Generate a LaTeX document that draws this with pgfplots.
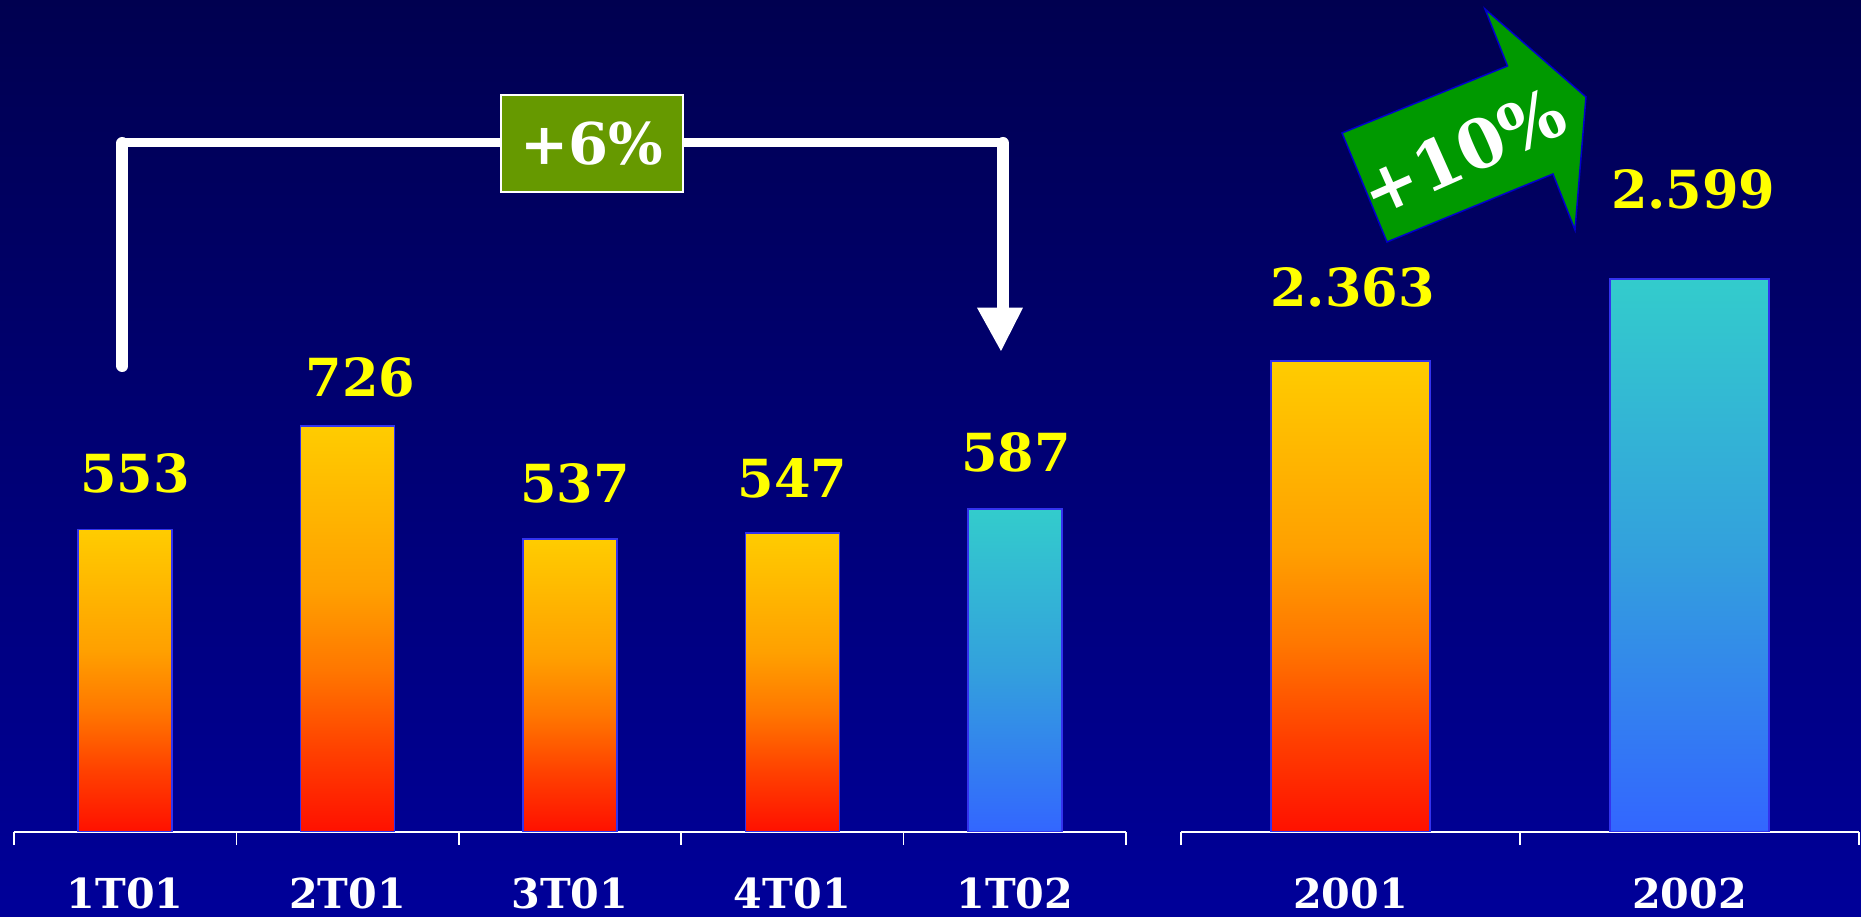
\documentclass[border=0pt]{standalone}
\usepackage{pgfplots}
\pgfplotsset{compat=1.18}
\usepackage{fontspec}
\setmainfont{DejaVu Serif}
\definecolor{bgtop}{HTML}{000050}
\definecolor{bgbot}{HTML}{000099}
\definecolor{oa}{HTML}{FF1000}
\definecolor{ob}{HTML}{FF4000}
\definecolor{oc}{HTML}{FF7700}
\definecolor{od}{HTML}{FFA000}
\definecolor{oe}{HTML}{FFCC00}
\definecolor{ba}{HTML}{3366FF}
\definecolor{bb}{HTML}{33A0DD}
\definecolor{bc}{HTML}{33CCCC}
\definecolor{valyellow}{HTML}{FFFF00}
\definecolor{boxgreen}{HTML}{669900}
\definecolor{arrowgreen}{HTML}{009900}
\definecolor{arrowedge}{HTML}{0000CC}
\definecolor{baredge}{HTML}{3333EE}

\pgfdeclareverticalshading{orangebar}{100bp}{color(0bp)=(oa); color(25bp)=(oa); color(35bp)=(ob); color(45bp)=(oc); color(55bp)=(od); color(75bp)=(oe); color(100bp)=(oe)}
\pgfdeclareverticalshading{bluebar}{100bp}{color(0bp)=(ba); color(25bp)=(ba); color(50bp)=(bb); color(75bp)=(bc); color(100bp)=(bc)}

\newcommand\valfont{\fontsize{21pt}{21pt}\selectfont\bfseries}
\newcommand\tickfont{\fontsize{16.5pt}{16.5pt}\selectfont\bfseries}

\pgfplotsset{
  chartbase/.style={
    scale only axis, anchor=south west,
    height=332.8pt,
    axis x line*=bottom, axis y line=none,
    x axis line style={white, line width=0.9pt, -},
    ytick=\empty,
    tick align=outside,
    major tick length=5.2pt,
    xtick style={white, line width=0.6pt},
    x tick label as interval,
    xticklabel style={font=\tickfont, text=white, anchor=center, yshift=-19.4pt},
    ybar, bar shift=0pt,
    nodes near coords,
    every node near coord/.append style={font=\valfont, text=valyellow, anchor=center},
    /pgf/number format/assume math mode=true,
    /pgf/number format/1000 sep={.},
  },
  barstyle/.style n args={3}{shading=#1, draw=baredge, line width=0.6pt,
    every node near coord/.append style={yshift=#2, xshift=#3}},
}

\begin{document}
\begin{tikzpicture}
\shade[top color=bgtop, bottom color=bgbot] (0,0) rectangle (744.4pt,366.8pt);

\begin{axis}[chartbase,
  at={(5.6pt,34pt)}, width=444.8pt,
  xmin=-0.5, xmax=4.5, ymin=47, ymax=1439,
  xtick={-0.5,0.5,1.5,2.5,3.5,4.5},
  xticklabels={1T01,2T01,3T01,4T01,1T02},
  bar width=37.6pt]
\addplot[barstyle={orangebar}{22.3pt}{4pt}] coordinates {(0,553)};
\addplot[barstyle={orangebar}{19.5pt}{5.2pt}] coordinates {(1,726)};
\addplot[barstyle={orangebar}{22.4pt}{2pt}] coordinates {(2,537)};
\addplot[barstyle={orangebar}{21.8pt}{0pt}] coordinates {(3,547)};
\addplot[barstyle={bluebar}{22.8pt}{0.4pt}] coordinates {(4,587)};
\end{axis}

\begin{axis}[chartbase,
  at={(472.4pt,34pt)}, width=271.2pt,
  xmin=-0.5, xmax=1.5, ymin=1007, ymax=3401.5,
  xtick={-0.5,0.5,1.5},
  xticklabels={2001,2002},
  bar width=63.6pt]
\addplot[barstyle={orangebar}{29.4pt}{0.8pt}] coordinates {(0,2363)};
\addplot[barstyle={bluebar}{35.6pt}{1.5pt}] coordinates {(1,2599)};
\end{axis}

\begin{scope}[x=0.4pt, y=-0.4pt, yshift=366.8pt]
  \draw[white, line width=4.8pt, line cap=round] (122.5,366) -- (122.5,143);
  \draw[white, line width=3.4pt] (122.5,142.5) -- (1003,142.5);
  \draw[white, line width=4.8pt, line cap=round] (1003,143) -- (1003,300);
  \draw[white, line width=4.8pt] (1003,290) -- (1003,309);
  \fill[white] (977,307.7) -- (1023,307.7) -- (1001,351) -- cycle;
  \node[fill=boxgreen, draw=white, line width=0.6pt, minimum width=72.8pt,
        minimum height=38.8pt, inner sep=0pt, text=white,
        font=\fontsize{23pt}{23pt}\selectfont\bfseries] at (592,143.5) {+6\%};
  \filldraw[fill=arrowgreen, draw=arrowedge, line width=0.6pt]
    (1342,133) -- (1507.5,66) -- (1485,9) -- (1586,97) -- (1575,230) -- (1553,174) -- (1387,242) -- cycle;
  \node[rotate=24, text=white, font=\fontsize{27pt}{27pt}\selectfont\bfseries] at (1463,152) {+10\%};
\end{scope}

\pgfresetboundingbox
\useasboundingbox (0,0) rectangle (744.4pt,366.8pt);
\end{tikzpicture}
\end{document}
